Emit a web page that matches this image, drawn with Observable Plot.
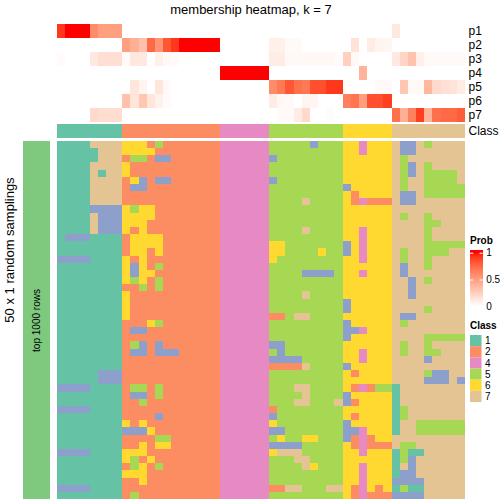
<!DOCTYPE html>
<html><head><meta charset="utf-8">
<script src="https://cdn.jsdelivr.net/npm/d3@7"></script>
<script src="https://cdn.jsdelivr.net/npm/@observablehq/plot@0.6"></script>
<style>
body{margin:0;background:#fff;}
#root{position:relative;width:504px;height:504px;overflow:hidden;font-family:"Liberation Sans",Arial,sans-serif;}
#root > *{position:absolute;}
</style></head><body><div id="root"></div>
<script>
// ---------- data ----------
const classes = ["1","2","3","4","5","6","7"];
const classColors = ["#66C2A5","#FC8D62","#8DA0CB","#E78AC3","#A6D854","#FFD92F","#E5C494"];
const legendClasses = ["1","2","4","5","6","7"];
const probRows = ["p1","p2","p3","p4","p5","p6","p7"];
const p1 = [0.92,1,1,1,0.6,0.5,0.5,0.5, 0,0,0,0,0,0,0,0,0,0,0,0, 0,0,0,0,0,0, 0,0,0,0,0,0,0,0,0, 0,0,0,0,0,0, 0.12,0,0,0,0,0,0,0,0];
const p2 = [0,0,0,0,0,0,0,0, 0.5,0.42,0.33,0.75,0.55,0.82,0.92,1,1,1,1,1, 0,0,0,0,0,0, 0.08,0.08,0.03,0.03,0,0,0,0,0, 0,0.15,0,0.1,0.06,0.05, 0,0,0,0,0,0,0,0,0];
const p3 = [0.02,0,0,0,0.12,0.17,0.17,0.17, 0.03,0.12,0.12,0,0.08,0.04,0.02,0,0,0,0,0, 0,0,0,0,0,0, 0.1,0.1,0.04,0.04,0.04,0.04,0.04,0.04,0.02, 0.25,0.04,0,0,0,0, 0.12,0.22,0.32,0.08,0.03,0.03,0.03,0.03,0.03];
const p4 = [0,0,0,0,0,0,0,0, 0,0,0,0,0,0,0,0,0,0,0,0, 1,1,1,1,1,1, 0,0,0,0,0,0,0,0,0, 0,0,0.4,0,0,0, 0,0,0,0,0,0,0,0,0];
const p5 = [0,0,0,0,0,0,0,0, 0,0.14,0.06,0,0.14,0.03,0,0,0,0,0,0, 0,0,0,0,0,0, 0.6,0.68,0.82,0.72,0.68,0.85,0.85,0.92,0.92, 0,0,0,0,0.03,0.03, 0,0.3,0.03,0.04,0.38,0.2,0.17,0.15,0.1];
const p6 = [0,0,0,0,0,0,0,0, 0.33,0.14,0.3,0.14,0.07,0.02,0,0,0,0,0,0, 0,0,0,0,0,0, 0.1,0.04,0.03,0,0.05,0.05,0,0,0, 0.65,0.7,0.5,0.85,0.85,0.9, 0,0,0,0,0,0,0,0,0];
const p7 = [0,0,0,0,0.2,0.18,0.18,0.18, 0,0,0,0,0,0,0,0,0,0,0,0, 0,0,0,0,0,0, 0,0.03,0.03,0.1,0.2,0,0,0.02,0, 0,0,0,0,0,0, 0.72,0.42,0.65,0.9,0.4,0.72,0.75,0.75,0.8];
const probValues = [p1,p2,p3,p4,p5,p6,p7];
const sampleClass = "11111111222222222222444444555555555666666777777777";
const samplings = [
 "11117777"+"666252222222"+"444444"+"555553555"+"664666"+"733757777",
 "11111777"+"666622222222"+"444444"+"555555555"+"664666"+"733777777",
 "11111777"+"255233222222"+"444444"+"355555555"+"666666"+"757777777",
 "11117777"+"622222222222"+"444444"+"555555555"+"666666"+"753757777",
 "11117177"+"622222222222"+"444444"+"555555555"+"666666"+"753755557",
 "11117777"+"263233222222"+"444444"+"355555555"+"666666"+"757755557",
 "11117777"+"233222222222"+"444444"+"555555555"+"366666"+"757755555",
 "11117777"+"222222222222"+"444444"+"555555555"+"626666"+"733755555",
 "11117777"+"222222222222"+"444444"+"555575555"+"624222"+"733777777",
 "11113333"+"656622222222"+"444444"+"555555555"+"666666"+"777777777",
 "11117333"+"666622222222"+"444444"+"555555555"+"666666"+"757757777",
 "11117333"+"666222222222"+"444444"+"555555555"+"666666"+"777755777",
 "11117333"+"626222222222"+"444444"+"555575555"+"664666"+"777757777",
 "13331111"+"266662222222"+"444444"+"555555555"+"664666"+"777757777",
 "11111111"+"266662222222"+"444444"+"665555555"+"364666"+"777755555",
 "11111111"+"266262222222"+"444444"+"665555655"+"364666"+"757755577",
 "33331111"+"626222222222"+"444444"+"655555555"+"664666"+"757757777",
 "11111111"+"636252222222"+"444444"+"555555555"+"666666"+"737757777",
 "11111111"+"636622222222"+"444444"+"555533335"+"664666"+"737777777",
 "11111111"+"656252222222"+"444444"+"555555555"+"666666"+"773757777",
 "11111111"+"225252222222"+"444444"+"555555555"+"666666"+"773777777",
 "11111111"+"622222222222"+"444444"+"555575555"+"666666"+"773777777",
 "11111111"+"622222222222"+"444444"+"555555555"+"366666"+"777777777",
 "11111111"+"622222222222"+"444444"+"555555555"+"366666"+"777757777",
 "11111111"+"622222222222"+"444444"+"225775555"+"666666"+"733777777",
 "11111111"+"222652222222"+"444444"+"555555555"+"366666"+"757777777",
 "11111111"+"233222222222"+"444444"+"555555555"+"334666"+"777777777",
 "11111111"+"222222222222"+"444444"+"555555555"+"366666"+"777755555",
 "11111111"+"253232222222"+"444444"+"335555555"+"666666"+"757757777",
 "11111111"+"233233322222"+"444444"+"535555555"+"664666"+"757755777",
 "11111111"+"222222222222"+"444444"+"333355555"+"664666"+"777737777",
 "11111111"+"222222222222"+"444444"+"222275555"+"366666"+"777777777",
 "11111333"+"222222222222"+"444444"+"555555555"+"626666"+"777753377",
 "11111333"+"222222222222"+"444444"+"555555555"+"666666"+"777733373",
 "33331111"+"255252222222"+"444444"+"555775555"+"624255"+"177777777",
 "11111111"+"233252222222"+"444444"+"555575555"+"366666"+"177777777",
 "11111111"+"225222222222"+"444444"+"555775557"+"326666"+"177777777",
 "33331111"+"222222222222"+"444444"+"255555555"+"666666"+"157777777",
 "11111111"+"222232222222"+"444444"+"355555555"+"626666"+"157777777",
 "11111111"+"626222222222"+"444444"+"655555555"+"366666"+"177555555",
 "11111111"+"333622222222"+"444444"+"335555555"+"334666"+"177555555",
 "11111111"+"222255222222"+"444444"+"565566555"+"324266"+"777777777",
 "11111111"+"226266222222"+"444444"+"333355555"+"624222"+"755777777",
 "33331111"+"666222222222"+"444444"+"677755555"+"664666"+"151177777",
 "11111111"+"652622222222"+"444444"+"555775555"+"666666"+"153777777",
 "11111111"+"256252222222"+"444444"+"555576555"+"664666"+"173777777",
 "11111111"+"666222222222"+"444444"+"555555555"+"664666"+"133777777",
 "11111111"+"226222222222"+"444444"+"555555555"+"664666"+"333377777",
 "33331111"+"222222222222"+"444444"+"227755577"+"624626"+"151177777",
 "11111111"+"252222222222"+"444444"+"555555555"+"624222"+"333377777"
];
const titleText = "membership heatmap, k = 7";
const rowTitle = "50 x 1 random samplings";
const groupLabel = "top 1000 rows";
const probTicks = [0, 0.5, 1];

// ---------- helpers ----------
const FONT = '"Liberation Sans", Arial, sans-serif';
const root = document.getElementById("root");
function place(node, left, top){ node.style.position="absolute"; node.style.left=left+"px"; node.style.top=top+"px"; root.appendChild(node); }
const nCol = sampleClass.length;
const cols = d3.range(nCol);
const classColor = {type:"ordinal", domain:classes, range:classColors};

// ---------- probability annotation ----------
const probData = [];
probRows.forEach((r,i)=>probValues[i].forEach((v,j)=>probData.push({row:r,col:j,value:v})));
place(Plot.plot({
  width:448, height:98, marginTop:0, marginBottom:0, marginLeft:0, marginRight:40,
  style:{fontSize:"12px", fontFamily:FONT, background:"transparent", color:"#000"},
  x:{type:"band", domain:cols, padding:0, round:false, axis:null},
  y:{type:"band", domain:probRows, padding:0, round:false, axis:"right", tickSize:0, tickPadding:3, label:null},
  color:{type:"linear", domain:[0,1], range:["#ffffff","#ff0000"], interpolate:"lab"},
  marks:[Plot.cell(probData,{x:"col", y:"row", fill:"value", inset:0, shapeRendering:"crispEdges"})]
}), 57, 24);

// ---------- class annotation ----------
const classData = cols.map(j=>({col:j, row:"Class", cls:sampleClass[j]}));
place(Plot.plot({
  width:448, height:14, marginTop:0, marginBottom:0, marginLeft:0, marginRight:40,
  style:{fontSize:"12px", fontFamily:FONT, background:"transparent", color:"#000"},
  x:{type:"band", domain:cols, padding:0, round:false, axis:null},
  y:{type:"band", domain:["Class"], padding:0, round:false, axis:"right", tickSize:0, tickPadding:3, label:null},
  color:classColor,
  marks:[Plot.cell(classData,{x:"col", y:"row", fill:"cls", inset:0, shapeRendering:"crispEdges"})]
}), 57, 124);

// ---------- membership body ----------
const bodyData = [];
samplings.forEach((s,i)=>{ for(let j=0;j<s.length;j++) bodyData.push({row:i,col:j,cls:s[j]}); });
place(Plot.plot({
  width:408, height:358, margin:0,
  style:{background:"transparent"},
  x:{type:"band", domain:cols, padding:0, round:false, axis:null},
  y:{type:"band", domain:d3.range(samplings.length), padding:0, round:false, axis:null},
  color:classColor,
  marks:[Plot.cell(bodyData,{x:"col", y:"row", fill:"cls", inset:0, shapeRendering:"crispEdges"})]
}), 57, 141);

// ---------- row group bar ----------
place(Plot.plot({
  width:27, height:358, margin:0,
  style:{fontSize:"10px", fontFamily:FONT, background:"transparent", color:"#000"},
  x:{type:"band", domain:[groupLabel], padding:0, round:false, axis:null},
  y:{type:"band", domain:[groupLabel], padding:0, round:false, axis:null},
  marks:[
    Plot.cell([groupLabel],{x:d=>d, y:d=>d, fill:"#7FC97F", inset:0}),
    Plot.text([groupLabel],{x:d=>d, y:d=>d, text:d=>d, rotate:-90, fill:"#000", fontSize:10})
  ]
}), 23, 141);

// ---------- prob legend ----------
const steps = d3.range(105);
place(Plot.plot({
  width:44, height:70, marginTop:12.7, marginBottom:3.7, marginLeft:10, marginRight:21.3,
  style:{fontSize:"10px", fontFamily:FONT, background:"transparent", color:"#000", overflow:"visible"},
  x:{type:"linear", domain:[0,1], axis:null},
  y:{type:"linear", domain:[0,1], axis:"right", ticks:probTicks, tickFormat:d=>String(d), tickSize:0, tickPadding:3, label:null},
  color:{type:"linear", domain:[0,1], range:["#ffffff","#ff0000"], interpolate:"lab", clamp:true},
  marks:[
    Plot.rect(steps,{x1:0, x2:1, y1:d=>d/100, y2:d=>(d+1)/100, fill:d=>Math.min(1,(d+0.5)/100), shapeRendering:"crispEdges"}),
    Plot.ruleY([0.5,1],{x1:0, x2:0.25, stroke:"#ffffff", strokeWidth:1}),
    Plot.ruleY([0.5,1],{x1:0.75, x2:1, stroke:"#ffffff", strokeWidth:1})
  ]
}), 460, 240);

// ---------- class legend ----------
place(Plot.plot({
  width:40, height:67, margin:0, marginRight:28.5,
  style:{fontSize:"10px", fontFamily:FONT, background:"transparent", color:"#000", overflow:"visible"},
  x:{type:"band", domain:["c"], padding:0, round:false, axis:null},
  y:{type:"band", domain:legendClasses, padding:0, round:false, axis:"right", tickSize:0, tickPadding:3, label:null},
  color:classColor,
  marks:[Plot.cell(legendClasses,{x:()=>"c", y:d=>d, fill:d=>d, inset:0})]
}), 470, 335);

// ---------- free text ----------
const ns = "http://www.w3.org/2000/svg";
const svg = document.createElementNS(ns,"svg");
svg.setAttribute("width",504); svg.setAttribute("height",504);
svg.style.pointerEvents="none";
function txt(str, x, y, opts){
  const t = document.createElementNS(ns,"text");
  t.setAttribute("x",x); t.setAttribute("y",y);
  t.setAttribute("font-family",FONT);
  t.setAttribute("font-size",opts.size);
  if(opts.weight) t.setAttribute("font-weight",opts.weight);
  t.setAttribute("text-anchor",opts.anchor||"start");
  if(opts.transform) t.setAttribute("transform",opts.transform);
  t.textContent = str; svg.appendChild(t);
}
txt(titleText, 251, 14, {size:13, anchor:"middle"});
txt(rowTitle, 0, 0, {size:13, anchor:"middle", transform:"translate(14,250) rotate(-90)"});
txt("Prob", 470, 244, {size:10, weight:"bold"});
txt("Class", 470, 329, {size:10, weight:"bold"});
place(svg, 0, 0);
</script></body></html>
